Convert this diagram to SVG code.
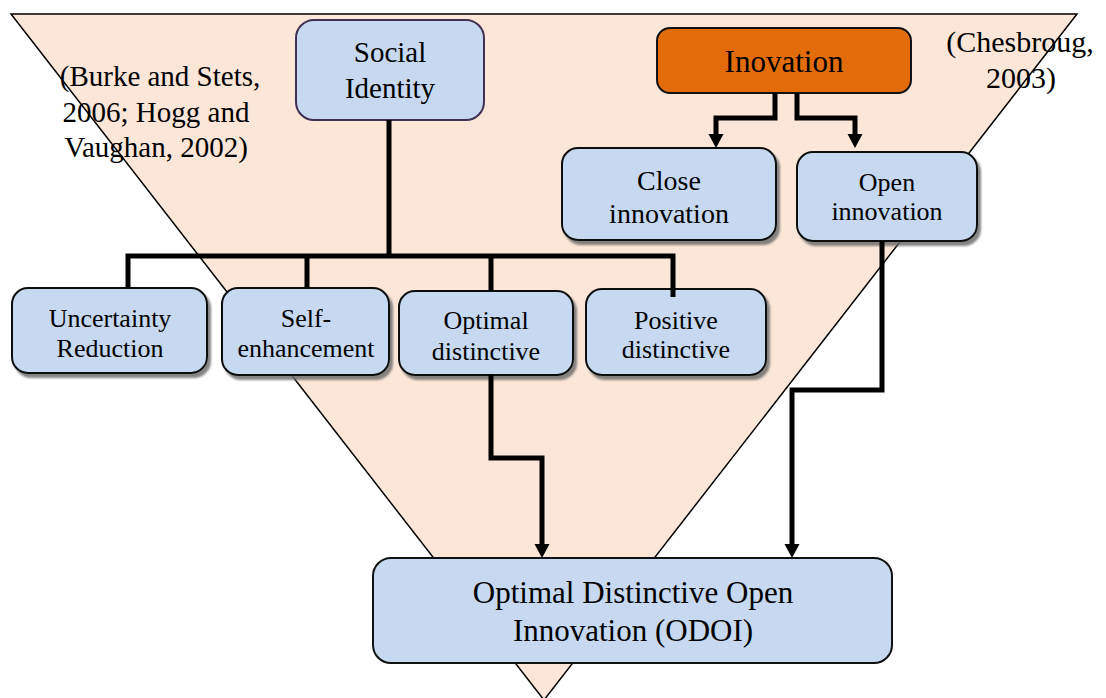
<svg xmlns="http://www.w3.org/2000/svg" width="1106" height="698" viewBox="0 0 1106 698">
<defs>
<filter id="sh" x="-10%" y="-10%" width="130%" height="140%">
<feDropShadow dx="3" dy="4" stdDeviation="1.2" flood-color="#6e6e6e" flood-opacity="0.85"/>
</filter>
<style>
text{font-family:'Liberation Serif','Times New Roman',Tinos,'DejaVu Serif',serif;fill:#000;text-anchor:middle}
.box{fill:#C6D9F0;stroke:#111;stroke-width:2}
.c{fill:none;stroke:#000;stroke-width:5;stroke-linejoin:miter}
</style>
</defs>
<rect width="1106" height="698" fill="#fff"/>
<polygon points="11,14 1077,14 544,700" fill="#FBE6D8" stroke="#000" stroke-width="1.5"/>
<g id="cite-left">
<text x="160" y="86" font-size="29">(Burke and Stets,</text>
<text x="156" y="122" font-size="29">2006; Hogg and</text>
<text x="156" y="157" font-size="29">Vaughan, 2002)</text>
</g>
<g id="cite-right">
<text x="1020" y="52" font-size="30">(Chesbroug,</text>
<text x="1021" y="88" font-size="30">2003)</text>
</g>
<g id="social-identity">
<rect x="296" y="20" width="188" height="100" rx="18" fill="#C6D9F0" stroke="#403152" stroke-width="2"/>
<text x="390" y="62" font-size="29">Social</text>
<text x="390" y="98" font-size="29">Identity</text>
</g>
<g id="inovation">
<rect x="657" y="28" width="254" height="65" rx="13" fill="#E36C0A" stroke="#111" stroke-width="2"/>
<text x="784" y="72" font-size="31">Inovation</text>
</g>
<g id="close-innovation">
<rect class="box" x="562" y="148" width="214" height="92" rx="16" filter="url(#sh)"/>
<text x="669" y="190" font-size="28">Close</text>
<text x="669" y="223" font-size="28">innovation</text>
</g>
<g id="open-innovation">
<rect class="box" x="797" y="152" width="180" height="89" rx="16" filter="url(#sh)"/>
<text x="887" y="191" font-size="26">Open</text>
<text x="887" y="220" font-size="26">innovation</text>
</g>
<g id="uncertainty-reduction">
<rect class="box" x="12" y="288" width="195" height="85" rx="16" filter="url(#sh)"/>
<text x="110" y="327" font-size="26">Uncertainty</text>
<text x="110" y="357" font-size="26">Reduction</text>
</g>
<g id="self-enhancement">
<rect class="box" x="222" y="288" width="167" height="87" rx="16" filter="url(#sh)"/>
<text x="306" y="327" font-size="26">Self-</text>
<text x="306" y="357" font-size="26">enhancement</text>
</g>
<g id="optimal-distinctive">
<rect class="box" x="399" y="291" width="174" height="84" rx="16" filter="url(#sh)"/>
<text x="486" y="329" font-size="26">Optimal</text>
<text x="486" y="360" font-size="26">distinctive</text>
</g>
<g id="positive-distinctive">
<rect class="box" x="586" y="289" width="180" height="86" rx="16" filter="url(#sh)"/>
<text x="676" y="329" font-size="26">Positive</text>
<text x="676" y="358" font-size="26">distinctive</text>
</g>
<g id="odoi">
<rect class="box" x="373" y="558" width="519" height="105" rx="18"/>
<text x="633" y="603" font-size="31">Optimal Distinctive Open</text>
<text x="633" y="641" font-size="31">Innovation (ODOI)</text>
</g>
<g id="connectors">
<path class="c" d="M389,120 V256"/>
<path class="c" d="M128,288 V256 H673 V297"/>
<path class="c" d="M307,256 V288"/>
<path class="c" d="M491,256 V291"/>
<path class="c" d="M775,93 V118 H716 V135"/>
<path class="c" d="M797,93 V118 H855 V135"/>
<path class="c" d="M491,375 V458 H542 V545"/>
<path class="c" d="M882,241 V390 H792 V545"/>
<polygon points="708.5,134 723.5,134 716,148" fill="#000"/>
<polygon points="847.5,134 862.5,134 855,148" fill="#000"/>
<polygon points="534.5,544 549.5,544 542,558" fill="#000"/>
<polygon points="784.5,544 799.5,544 792,558" fill="#000"/>
</g>
</svg>
